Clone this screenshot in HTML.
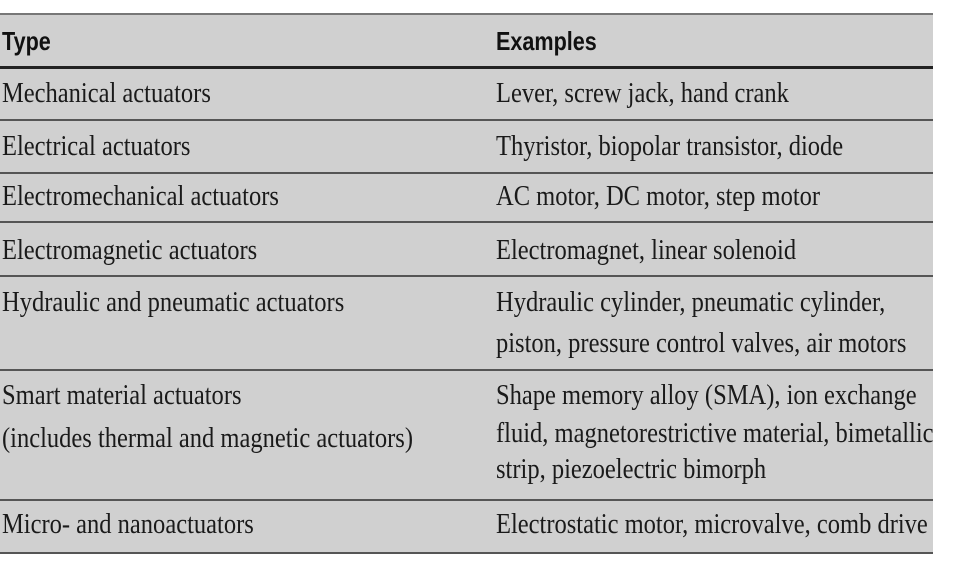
<!DOCTYPE html>
<html><head><style>
body{margin:0;width:954px;height:562px;background:#fff;position:relative;overflow:hidden}
.bg{position:absolute;left:0;top:14px;width:933px;height:539px;background:#d0d0d0}
.l{position:absolute;left:0;width:933px;background:#555}
.t{position:absolute;font-family:"Liberation Serif",serif;font-size:29px;color:#1a1a1a;white-space:nowrap;line-height:30px;transform-origin:0 0;transform:scaleX(0.845)}
.h{position:absolute;font-family:"Liberation Sans",sans-serif;font-weight:bold;font-size:26px;color:#111;line-height:30px;transform-origin:0 0;transform:scaleX(0.83)}
</style></head><body>
<div class="bg"></div>
<div class="l" style="top:13px;height:2px;background:#777"></div>
<div class="l" style="top:66px;height:3px;background:#222"></div>
<div class="l" style="top:119px;height:2px"></div>
<div class="l" style="top:172px;height:2px"></div>
<div class="l" style="top:221px;height:2px"></div>
<div class="l" style="top:275px;height:2px"></div>
<div class="l" style="top:369px;height:2px"></div>
<div class="l" style="top:499px;height:2px"></div>
<div class="l" style="top:552px;height:2px"></div>

<div class="h" style="left:2px;top:26px">Type</div>
<div class="h" style="left:496px;top:26px">Examples</div>

<div class="t" style="left:2px;top:78px">Mechanical actuators</div>
<div class="t" style="left:496px;top:78px">Lever, screw jack, hand crank</div>
<div class="t" style="left:2px;top:131px">Electrical actuators</div>
<div class="t" style="left:496px;top:131px">Thyristor, biopolar transistor, diode</div>
<div class="t" style="left:2px;top:181px">Electromechanical actuators</div>
<div class="t" style="left:496px;top:181px">AC motor, DC motor, step motor</div>
<div class="t" style="left:2px;top:235px">Electromagnetic actuators</div>
<div class="t" style="left:496px;top:235px">Electromagnet, linear solenoid</div>
<div class="t" style="left:2px;top:287px">Hydraulic and pneumatic actuators</div>
<div class="t" style="left:496px;top:287px">Hydraulic cylinder, pneumatic cylinder,</div>
<div class="t" style="left:496px;top:328px">piston, pressure control valves, air motors</div>
<div class="t" style="left:2px;top:380px">Smart material actuators</div>
<div class="t" style="left:2px;top:423px">(includes thermal and magnetic actuators)</div>
<div class="t" style="left:496px;top:380px">Shape memory alloy (SMA), ion exchange</div>
<div class="t" style="left:496px;top:418px">fluid, magnetorestrictive material, bimetallic</div>
<div class="t" style="left:496px;top:454px">strip, piezoelectric bimorph</div>
<div class="t" style="left:2px;top:509px">Micro- and nanoactuators</div>
<div class="t" style="left:496px;top:509px">Electrostatic motor, microvalve, comb drive</div>
</body></html>
